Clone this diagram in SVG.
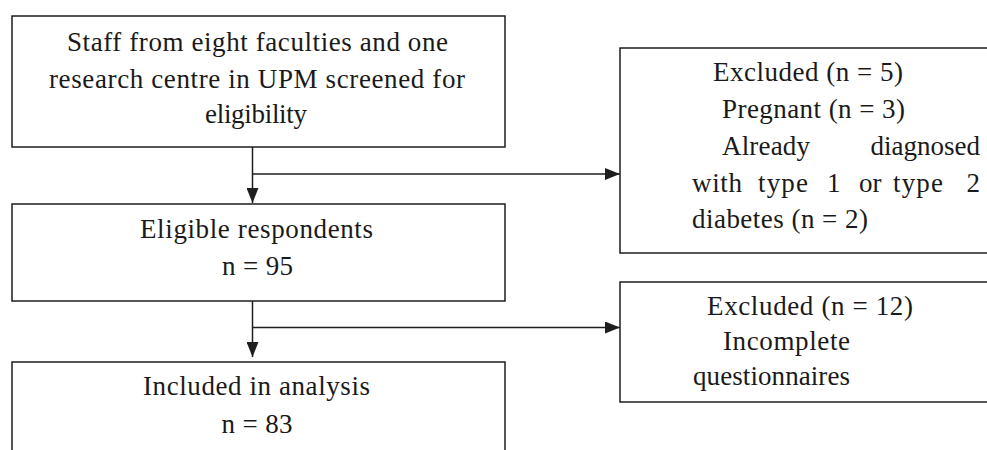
<svg xmlns="http://www.w3.org/2000/svg" width="987" height="450" viewBox="0 0 987 450">
<style>
  .box { fill: #ffffff; stroke: #1e1e1e; stroke-width: 1.5; }
  .t { font-family: "Liberation Serif", "Times New Roman", serif; font-size: 27px; fill: #1a1a1a; }
  .c { text-anchor: middle; }
  .e { text-anchor: end; }
  .conn { stroke: #1e1e1e; stroke-width: 1.5; fill: none; }
</style>
<defs>
  <marker id="arrow" markerUnits="userSpaceOnUse" markerWidth="15" markerHeight="12" refX="15" refY="6" orient="auto">
    <path d="M0,0 L15,6 L0,12 Z" fill="#1e1e1e"/>
  </marker>
</defs>
<rect width="987" height="450" fill="#ffffff"/>

<g id="connectors">
  <line class="conn" x1="252.5" y1="147" x2="252.5" y2="203" marker-end="url(#arrow)"/>
  <line class="conn" x1="252.5" y1="174" x2="620" y2="174" marker-end="url(#arrow)"/>
  <line class="conn" x1="252.5" y1="301" x2="252.5" y2="357" marker-end="url(#arrow)"/>
  <line class="conn" x1="252.5" y1="327.5" x2="620" y2="327.5" marker-end="url(#arrow)"/>
</g>

<g id="screened">
  <rect class="box" x="12" y="16" width="493" height="131"/>
  <text class="t c" x="257.5" y="51" textLength="381">Staff from eight faculties and one</text>
  <text class="t c" x="257" y="88" textLength="416">research centre in UPM screened for</text>
  <text class="t c" x="256" y="123" textLength="102">eligibility</text>
</g>

<g id="eligible">
  <rect class="box" x="12" y="204" width="493" height="97"/>
  <text class="t c" x="256.5" y="238" textLength="233">Eligible respondents</text>
  <text class="t c" x="257.5" y="275" textLength="71">n = 95</text>
</g>

<g id="included">
  <rect class="box" x="12" y="362" width="493" height="100"/>
  <text class="t c" x="256.5" y="395" textLength="227">Included in analysis</text>
  <text class="t c" x="257" y="433" textLength="71">n = 83</text>
</g>

<g id="excluded1">
  <rect class="box" x="620" y="48" width="380" height="205"/>
  <text class="t" x="713" y="81" textLength="190">Excluded (n = 5)</text>
  <text class="t" x="722" y="118" textLength="183">Pregnant (n = 3)</text>
  <text class="t" x="722" y="155" textLength="88">Already</text>
  <text class="t e" x="980" y="155">diagnosed</text>
  <text class="t" x="692" y="192" textLength="50">with</text>
  <text class="t" x="758" y="192" textLength="50">type</text>
  <text class="t" x="827" y="192">1</text>
  <text class="t" x="859" y="192">or</text>
  <text class="t" x="893" y="192" textLength="50">type</text>
  <text class="t e" x="980" y="192">2</text>
  <text class="t" x="692" y="228" textLength="176">diabetes (n = 2)</text>
</g>

<g id="excluded2">
  <rect class="box" x="620" y="282" width="380" height="120"/>
  <text class="t" x="707" y="315" textLength="206">Excluded (n = 12)</text>
  <text class="t" x="723" y="350" textLength="127">Incomplete</text>
  <text class="t" x="693" y="385" textLength="157">questionnaires</text>
</g>
</svg>
